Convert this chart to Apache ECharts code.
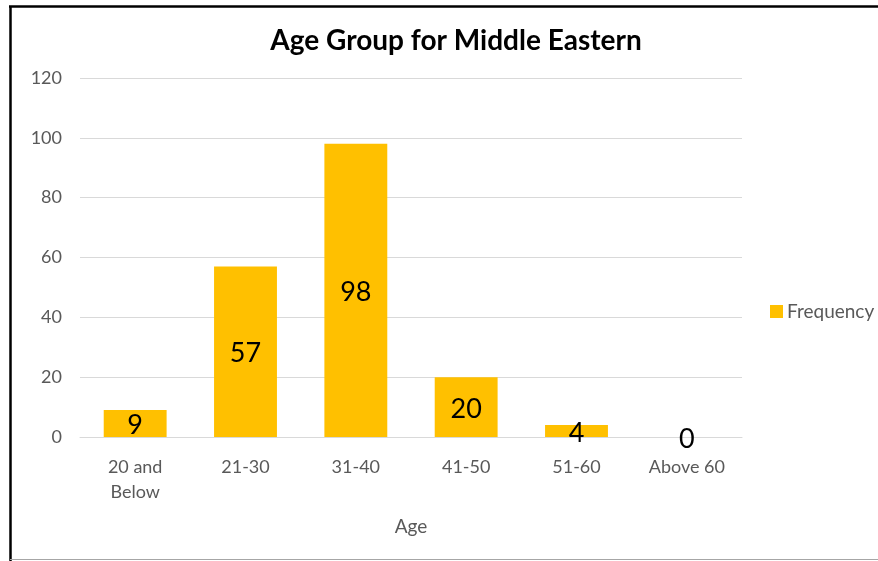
<!DOCTYPE html>
<html>
<head>
<meta charset="utf-8">
<script src="https://cdn.jsdelivr.net/npm/echarts@6/dist/echarts.min.js"></script>
<style>
  html, body { margin: 0; padding: 0; background: #fff; }
  #chart { width: 878px; height: 561px; }
</style>
</head>
<body>
<div id="chart"></div>
<script>
// Age bands and how many respondents fall into each
const categories = ['20 and\nBelow', '21-30', '31-40', '41-50', '51-60', 'Above 60'];
const frequency = [9, 57, 98, 20, 4, 0];
const yTicks = { min: 0, max: 120, interval: 20 };

const FONT = 'Lato, "Open Sans", sans-serif';
const chart = echarts.init(document.getElementById('chart'));

chart.setOption({
  backgroundColor: '#ffffff',
  animation: false,
  title: {
    text: 'Age Group for Middle Eastern',
    left: 451,
    top: 22,
    textAlign: 'center',
    textStyle: { fontFamily: FONT, fontSize: 28, fontWeight: 'bold', color: '#000' }
  },
  legend: {
    data: ['Frequency'],
    orient: 'vertical',
    left: 765,
    top: 297,
    itemWidth: 13,
    itemHeight: 13,
    itemGap: 5,
    icon: 'rect',
    textStyle: { fontFamily: FONT, fontSize: 19, color: '#595959', padding: [0, 0, 0, -1] }
  },
  grid: { left: 80, right: 136, top: 78, bottom: 124 },
  xAxis: {
    type: 'category',
    data: categories,
    name: 'Age',
    nameLocation: 'middle',
    nameGap: 80,
    nameTextStyle: { fontFamily: FONT, fontSize: 19, color: '#595959' },
    axisLine: { show: true, lineStyle: { color: '#d9d9d9', width: 1 } },
    axisTick: { show: false },
    axisLabel: {
      fontFamily: FONT, fontSize: 18, color: '#595959',
      margin: 18, lineHeight: 25, interval: 0
    }
  },
  yAxis: {
    type: 'value',
    min: yTicks.min,
    max: yTicks.max,
    interval: yTicks.interval,
    axisLine: { show: false },
    axisTick: { show: false },
    splitLine: { lineStyle: { color: '#d9d9d9', width: 1 } },
    axisLabel: { fontFamily: FONT, fontSize: 18, color: '#595959', margin: 18 }
  },
  series: [{
    name: 'Frequency',
    type: 'bar',
    data: frequency,
    barWidth: '57%',
    itemStyle: { color: '#FFC000' },
    label: {
      show: true,
      position: 'inside',
      offset: [0, 2],
      fontFamily: FONT,
      fontSize: 27,
      color: '#000'
    }
  }],
  graphic: [
    { type: 'line', shape: { x1: 10.5, y1: 6, x2: 10.5, y2: 561 }, style: { stroke: '#000', lineWidth: 2.5 } },
    { type: 'line', shape: { x1: 9, y1: 6.5, x2: 878, y2: 6.5 }, style: { stroke: '#000', lineWidth: 2.5 } },
    { type: 'line', shape: { x1: 10, y1: 559.5, x2: 878, y2: 559.5 }, style: { stroke: '#a6a6a6', lineWidth: 1 } }
  ]
});
</script>
</body>
</html>
